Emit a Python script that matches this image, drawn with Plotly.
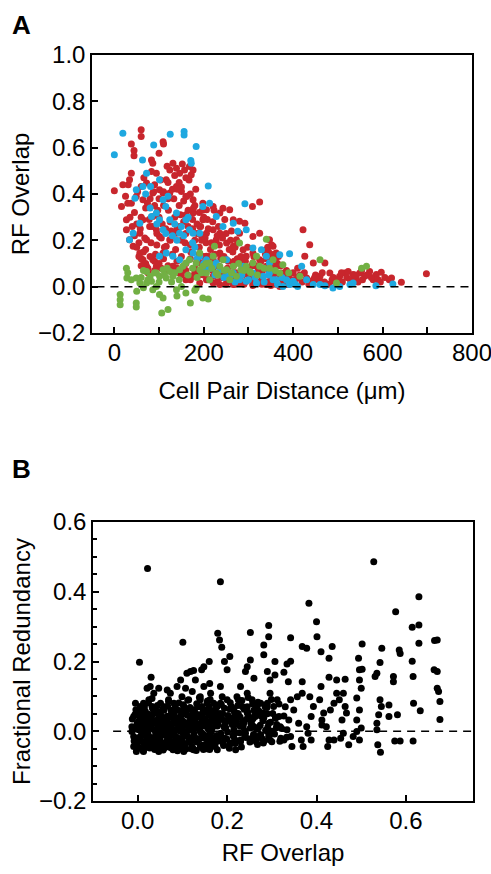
import plotly.graph_objects as go

# ---- panel A: RF overlap vs cell pair distance ----
red_x = [60, 60, 38, 44, 44, 83, 86, 100, 109, 110, 131, 139, 146, 157, 168, 176, 172, 124, 116, 94,
         83, 72, 38, 34, 31, 19, 0, 16, 38, 49, 60, 64, 86, 101, 109, 124, 139, 150, 160, 176,
         198, 206, 221, 236, 243, 258, 266, 280, 292, 309, 325, 280, 310, 325, 27, 27, 34, 42, 57, 72,
         79, 64, 86, 94, 101, 57, 64, 72, 86, 94, 109, 116, 124, 139, 146, 160, 176, 191, 198, 206,
         221, 228, 236, 251, 266, 273, 288, 295, 310, 325, 340, 347, 355, 362, 351, 340, 362, 374, 385, 400,
         422, 437, 426, 445, 471, 482, 460, 445, 430, 493, 504, 515, 523, 534, 541, 549, 560, 571, 579, 586,
         597, 620, 642, 698, 131, 146, 160, 176, 191, 206, 221, 236, 251, 266, 280, 295, 310, 325, 340, 355,
         370, 385, 400, 191, 206, 221, 236, 251, 266, 280, 295, 310, 325, 266, 236, 221, 60, 70, 75, 80,
         90, 100, 110, 120, 130, 140, 150, 160, 170, 180, 190, 200, 70, 95, 105, 115, 125, 135, 145, 155,
         165, 175, 185, 195, 205, 215, 225, 235, 245, 255, 265, 275, 285, 300, 315, 330, 345, 355, 350, 345,
         360, 365, 340, 355, 380, 395, 410, 420, 440, 455, 470, 480, 100, 110, 120, 130, 90, 80, 70, 60,
         50, 45, 55, 65, 85, 95, 125, 140, 150, 160, 170, 180, 190, 210, 220, 230, 250, 260, 270, 145,
         150, 160, 135, 120, 110, 100, 90, 170, 180, 190, 200, 160, 155, 165, 175, 185, 195, 200, 210, 220,
         230, 240, 250, 260, 270, 280, 290, 300, 310, 320, 330, 340, 350, 360, 370, 385, 390, 400, 410, 425,
         430, 450, 465, 490, 500, 510, 520, 545, 555, 565, 590, 605,
         45, 52, 58, 66, 68, 74, 78, 82, 88, 92, 97, 103, 107, 112, 118, 121, 127, 133, 137, 141,
         148, 152, 158, 162, 167, 171, 177, 182, 187, 193, 197, 203, 208, 212, 217, 223, 227, 233, 238, 242,
         247, 253, 257, 262, 268, 272, 277, 283, 287, 293, 298, 303, 307, 312, 318, 322, 328, 333, 338, 343,
         348, 352, 357, 362, 367, 372, 377, 382, 392, 405, 415, 435, 448, 462, 475, 487, 508, 528, 538, 553,
         575, 595, 615, 130, 150, 170, 190, 210, 230, 250, 270, 290, 310, 330, 350, 120, 140, 160, 180, 200,
         105, 90, 75, 60, 55, 50, 40, 35, 30, 25]
red_y = [0.677, 0.648, 0.616, 0.588, 0.565, 0.547, 0.533, 0.576, 0.626, 0.616, 0.533, 0.511, 0.49, 0.504, 0.519, 0.504, 0.483, 0.504, 0.461, 0.49,
         0.497, 0.447, 0.49, 0.461, 0.44, 0.44, 0.414, 0.346, 0.36, 0.389, 0.432, 0.375, 0.404, 0.418, 0.404, 0.404, 0.432, 0.411, 0.389, 0.375,
         0.36, 0.332, 0.346, 0.318, 0.339, 0.332, 0.289, 0.282, 0.274, 0.346, 0.365, 0.231, 0.217, 0.231, 0.289, 0.246, 0.203, 0.174, 0.231, 0.203,
         0.26, 0.289, 0.303, 0.246, 0.217, 0.145, 0.116, 0.088, 0.116, 0.088, 0.145, 0.174, 0.203, 0.231, 0.26, 0.289, 0.318, 0.26, 0.289, 0.231,
         0.246, 0.203, 0.231, 0.188, 0.174, 0.203, 0.159, 0.131, 0.145, 0.116, 0.159, 0.203, 0.174, 0.145, 0.116, 0.088, 0.088, 0.059, 0.045, 0.030,
         0.246, 0.181, 0.131, 0.102, 0.102, 0.059, 0.045, 0.030, 0.037, 0.023, 0.045, 0.059, 0.066, 0.052, 0.037, 0.059, 0.045, 0.066, 0.030, 0.052,
         0.062, 0.037, 0.019, 0.056, 0.088, 0.059, 0.030, 0.045, 0.016, 0.030, 0.016, 0.009, 0.016, 0.009, 0.016, 0.023, 0.009, 0.016, 0.009, 0.016,
         0.001, 0.009, 0.016, 0.102, 0.131, 0.116, 0.145, 0.116, 0.088, 0.116, 0.073, 0.102, 0.059, 0.059, 0.059, 0.045, 0.12, 0.10, 0.08, 0.13,
         0.11, 0.10, 0.12, 0.09, 0.14, 0.11, 0.13, 0.10, 0.12, 0.08, 0.14, 0.10, 0.16, 0.18, 0.21, 0.25, 0.28, 0.30, 0.35, 0.37,
         0.33, 0.29, 0.27, 0.22, 0.19, 0.16, 0.14, 0.18, 0.13, 0.11, 0.15, 0.12, 0.10, 0.08, 0.09, 0.06, 0.07, 0.12, 0.13, 0.15,
         0.11, 0.10, 0.12, 0.05, 0.03, 0.02, 0.04, 0.02, 0.01, 0.03, 0.02, 0.01, 0.30, 0.35, 0.38, 0.42, 0.44, 0.38, 0.34, 0.30,
         0.27, 0.22, 0.19, 0.15, 0.26, 0.23, 0.20, 0.25, 0.20, 0.23, 0.18, 0.20, 0.17, 0.25, 0.28, 0.22, 0.23, 0.20, 0.17, 0.45,
         0.43, 0.47, 0.48, 0.45, 0.41, 0.38, 0.35, 0.40, 0.35, 0.32, 0.30, 0.31, 0.28, 0.26, 0.25, 0.23, 0.20, 0.13, 0.09, 0.07,
         0.05, 0.04, 0.06, 0.05, 0.03, 0.04, 0.02, 0.05, 0.03, 0.02, 0.04, 0.02, 0.03, 0.01, 0.04, 0.07, 0.05, 0.06, 0.08, 0.06,
         0.03, 0.05, 0.06, 0.04, 0.03, 0.02, 0.04, 0.02, 0.03, 0.05, 0.03, 0.04,
         0.32, 0.41, 0.25, 0.47, 0.21, 0.36, 0.29, 0.19, 0.41, 0.14, 0.33, 0.46, 0.27, 0.17, 0.52, 0.33, 0.24, 0.38, 0.16, 0.42,
         0.31, 0.53, 0.19, 0.39, 0.46, 0.15, 0.34, 0.42, 0.12, 0.26, 0.33, 0.21, 0.29, 0.13, 0.19, 0.33, 0.09, 0.26, 0.12, 0.21,
         0.29, 0.08, 0.16, 0.24, 0.11, 0.06, 0.19, 0.13, 0.05, 0.11, 0.17, 0.03, 0.09, 0.13, 0.05, 0.07, 0.11, 0.02, 0.14, 0.17,
         0.09, 0.18, 0.14, 0.06, 0.13, 0.09, 0.02, 0.05, 0.01, 0.03, 0.05, 0.01, 0.04, 0.02, 0.01, 0.03, 0.06, 0.03, 0.05, 0.07,
         0.04, 0.02, 0.03, 0.06, 0.05, 0.03, 0.05, 0.03, 0.02, 0.01, 0.01, 0.01, 0.005, 0.01, 0.005, 0.07, 0.08, 0.07, 0.06, 0.05,
         0.08, 0.07, 0.06, 0.09, 0.13, 0.17, 0.26, 0.30, 0.36, 0.39]

blue_x = [0, 19, 125, 156, 156, 183, 88, 63, 171, 172, 210, 72, 101, 81, 49, 46, 64, 109, 115, 139,
          160, 176, 124, 94, 83, 57, 42, 34, 101, 109, 146, 168, 191, 198, 213, 228, 243, 266, 276, 292,
          295, 310, 329, 340, 347, 370, 392, 419, 430, 460, 489, 497, 527, 534, 585, 623, 400, 385, 362, 347,
          333, 318, 295, 280, 258, 236, 221, 206, 191, 176, 160, 146, 131, 116, 101, 266, 288, 310, 251, 228,
          206, 377, 392, 410, 445, 471, 504,
          130, 140, 150, 165, 175, 185, 200, 215, 225, 245, 255, 270, 285, 300, 315, 335, 345, 355, 365, 375,
          390, 405, 115, 95, 80, 70, 120, 135, 155, 180]
blue_y = [0.569, 0.662, 0.658, 0.67, 0.655, 0.605, 0.612, 0.547, 0.545, 0.533, 0.435, 0.49, 0.461, 0.432, 0.418, 0.382, 0.432, 0.375, 0.346, 0.318,
          0.289, 0.231, 0.289, 0.318, 0.303, 0.274, 0.231, 0.203, 0.289, 0.246, 0.231, 0.246, 0.231, 0.346, 0.36, 0.303, 0.26, 0.274, 0.239, 0.358,
          0.246, 0.167, 0.159, 0.131, 0.102, 0.138, 0.142, 0.088, 0.030, 0.009, -0.006, 0.009, 0.009, 0.016, 0.004, 0.011, 0.023, 0.030, 0.030, 0.059,
          0.045, 0.016, 0.023, 0.030, 0.045, 0.073, 0.088, 0.116, 0.131, 0.145, 0.159, 0.116, 0.131, 0.145, 0.131, 0.059, 0.088, 0.059, 0.116, 0.102,
          0.073, 0.001, 0.009, 0.001, 0.009, 0.004, 0.001,
          0.22, 0.20, 0.26, 0.30, 0.19, 0.12, 0.10, 0.08, 0.05, 0.04, 0.06, 0.02, 0.05, 0.03, 0.04, 0.02, 0.05, 0.03, 0.01, 0.04,
          0.02, 0.01, 0.23, 0.27, 0.34, 0.40, 0.39, 0.27, 0.22, 0.17]

green_x = [27, 28, 38, 49, 57, 13, 13, 13, 49, 49, 72, 80, 83, 94, 101, 109, 116, 124, 131, 146,
           153, 101, 109, 120, 106, 139, 150, 160, 170, 183, 198, 210, 86, 94, 72, 160, 168, 183, 191, 198,
           206, 213, 221, 228, 236, 243, 251, 266, 273, 280, 283, 295, 310, 318, 325, 340, 355, 377, 415, 460,
           497, 553, 564, 224, 191, 213, 258, 303, 347, 370,
           30, 60, 65, 75, 90, 100, 112, 118, 128, 135, 145, 165, 175, 185, 195, 205, 218, 232, 246, 262,
           278, 290, 305, 320, 335, 360, 390, 50, 65, 140, 180]
green_y = [0.080, 0.037, 0.030, 0.037, 0.016, -0.034, -0.056, -0.078, -0.070, -0.088, 0.066, 0.045, 0.023, 0.059, 0.045, 0.073, 0.037, 0.066, 0.045, 0.073,
           0.088, -0.034, -0.049, -0.099, -0.114, -0.013, 0.001, -0.027, -0.070, -0.006, -0.049, -0.053, -0.013, 0.001, 0.016, 0.102, 0.116, 0.102, 0.145, 0.088,
           0.059, 0.102, 0.131, 0.059, 0.088, 0.116, 0.073, 0.088, 0.045, 0.188, 0.073, 0.088, 0.102, 0.131, 0.088, 0.205, 0.116, 0.095, 0.045, 0.116,
           0.016, 0.080, 0.088, 0.174, 0.073, 0.030, 0.030, 0.066, 0.080, 0.059,
           0.06, 0.04, 0.07, 0.03, 0.06, 0.02, 0.05, 0.08, 0.02, 0.06, 0.03, 0.05, 0.08, 0.04, 0.06, 0.10, 0.08, 0.05, 0.07, 0.06,
           0.10, 0.07, 0.06, 0.05, 0.08, 0.07, 0.06, -0.02, -0.005, -0.04, -0.015]

# ---- panel B: fractional redundancy vs RF overlap ----
blk_x = [0.022, 0.004, 0.185, 0.528, 0.629, 0.383, 0.577, 0.4, 0.293, 0.614, 0.629, 0.101, 0.179, 0.183, 0.252, 0.293, 0.342, 0.401, 0.368, 0.378,
         0.435, 0.502, 0.546, 0.629, 0.67, 0.664, 0.585, 0.587, 0.282, 0.282, 0.188, 0.206, 0.194, 0.41, 0.428, 0.494, 0.614, 0.542, 0.252, 0.245,
         0.307, 0.334, 0.342, 0.143, 0.148, 0.16, 0.118, 0.125, 0.2, 0.241, 0.26, 0.29, 0.296, 0.307, 0.327, 0.337, 0.368, 0.41, 0.428, 0.445,
         0.464, 0.496, 0.502, 0.531, 0.535, 0.572, 0.616, 0.663, 0.67, 0.572, 0.67, 0.673, 0.676, 0.676, 0.632, 0.617, 0.562, 0.562, 0.581, 0.542,
         0.545, 0.539, 0.535, 0.535, 0.537, 0.543, 0.575, 0.587, 0.616, 0.496, 0.5, 0.49, 0.496, 0.49, 0.5, 0.49, 0.482, 0.496, 0.472, 0.454,
         0.439, 0.428, 0.425, 0.46, 0.457, 0.467, 0.464, 0.451, 0.46, 0.445, 0.439, 0.431, 0.416, 0.412, 0.412, 0.422, 0.407, 0.393, 0.385, 0.388,
         0.378, 0.381, 0.388, 0.37, 0.366, 0.36, 0.357, 0.368, 0.342, 0.349, 0.338, 0.334, 0.342, 0.345, 0.327, 0.319, 0.316, 0.304, 0.312, 0.296,
         0.29, 0.281, 0.293, 0.29, 0.296, 0.281, 0.267, 0.26, 0.263, 0.267, 0.256, 0.245, 0.23, 0.222, 0.234, 0.245, 0.237, 0.241, 0.23, 0.219,
         0.207, 0.215, 0.207, 0.215, 0.2, 0.185, 0.189, 0.178, 0.185, 0.193, 0.185, 0.178, 0.17, 0.163, 0.159, 0.163, 0.155, 0.163, 0.161, 0.148,
         0.14, 0.143, 0.136, 0.14, 0.143, 0.14, 0.125, 0.122, 0.125, 0.118, 0.122, 0.114, 0.122, 0.107, 0.099, 0.103, 0.096, 0.099, 0.103, 0.103,
         0.088, 0.081, 0.084, 0.077, 0.081, 0.069, 0.066, 0.058, 0.062, 0.058, 0.066, 0.058, 0.047, 0.043, 0.04, 0.043, 0.047, 0.051, 0.047, 0.028,
         0.021, 0.03, 0.025, 0.032, 0.025, 0.028, 0.025, 0.032, 0.013, 0.013, 0.01, 0.013, 0.01, 0.013, -0.005, -0.009, -0.013, -0.009, -0.003, -0.009,
         -0.013, -0.001, 0.002, 0.002, 0.036, 0.073, 0.088, 0.096, 0.11, 0.129,
         0.0, 0.005, 0.01, 0.015, 0.02, 0.025, 0.03, 0.035, 0.04, 0.045, 0.05, 0.055, 0.06, 0.065, 0.07, 0.075, 0.08, 0.085, 0.09, 0.095,
         0.1, 0.105, 0.11, 0.115, 0.12, 0.125, 0.13, 0.135, 0.14, 0.145, 0.15, 0.155, 0.16, 0.165, 0.17, 0.175, 0.18, 0.19, 0.195, 0.2,
         0.21, 0.215, 0.22, 0.225, 0.23, 0.24, 0.25, 0.255, 0.26, 0.27, 0.275, 0.28, 0.285, 0.3, 0.31, 0.32, 0.33, 0.0, 0.01, 0.02,
         0.03, 0.04, 0.05, 0.06, 0.07, 0.08, 0.09, 0.1, 0.11, 0.12, 0.13, 0.14, 0.15, 0.16, 0.005, 0.015, 0.025, 0.035, 0.045, 0.055,
         0.065, 0.075, 0.085, 0.095, 0.105, 0.115, 0.125, 0.135, 0.145, 0.155, 0.165, 0.175, 0.185, 0.195, 0.205, 0.215, 0.225, 0.235, 0.245, 0.255,
         0.265, 0.275, 0.29, 0.3, 0.31,
         -0.012, -0.008, -0.004, 0.001, 0.003, 0.006, 0.008, 0.011, 0.012, 0.014, 0.017, 0.018, 0.021, 0.023, 0.024, 0.027, 0.029, 0.031, 0.033, 0.036,
         0.038, 0.039, 0.042, 0.044, 0.046, 0.048, 0.051, 0.053, 0.054, 0.057, 0.059, 0.061, 0.063, 0.066, 0.068, 0.069, 0.072, 0.074, 0.076, 0.078,
         0.081, 0.083, 0.084, 0.087, 0.089, 0.091, 0.093, 0.096, 0.098, 0.099, 0.102, 0.104, 0.106, 0.108, 0.111, 0.113, 0.116, 0.117, 0.119, 0.121,
         0.124, 0.126, 0.128, 0.131, 0.132, 0.134, 0.137, 0.139, 0.141, 0.144, 0.146, 0.148, 0.151, 0.153, 0.156, 0.158, 0.161, 0.163, 0.166, 0.168,
         0.171, 0.173, 0.176, 0.178, 0.181, 0.184, 0.186, 0.189, 0.192, 0.194, 0.197, 0.199, 0.202, 0.205, 0.207, 0.211, 0.213, 0.216, 0.218, 0.221,
         0.224, 0.227, 0.229, 0.232, 0.236, 0.238, 0.242, 0.244, 0.247, 0.251, 0.253, 0.257, 0.259, 0.262, 0.266, 0.268, 0.271, 0.274, 0.278, 0.282,
         0.286, 0.289, 0.293, 0.297, 0.302, 0.306, 0.311, 0.316, 0.322, 0.327, 0.333,
         -0.01, -0.006, -0.002, 0.002, 0.004, 0.007, 0.009, 0.012, 0.013, 0.016, 0.019, 0.02, 0.022, 0.026, 0.028, 0.03, 0.032, 0.034, 0.037, 0.04,
         0.041, 0.043, 0.047, 0.049, 0.052, 0.056, 0.058, 0.062, 0.064, 0.067, 0.071, 0.073, 0.077, 0.079, 0.082, 0.086, 0.088, 0.092, 0.094, 0.097,
         0.101, 0.103, 0.107, 0.109, 0.112, 0.114, 0.118, 0.122, 0.123, 0.127, 0.129, 0.133, 0.136, 0.138, 0.142, 0.143, 0.147, 0.149, 0.152, 0.157,
         0.159, 0.162, 0.164, 0.167, 0.172, 0.174, 0.177, 0.182, 0.187, 0.191, 0.196, 0.201, 0.206, 0.212, 0.217, 0.223, 0.228, 0.233, 0.239, 0.246,
         0.252, 0.258, 0.264, 0.269, 0.276, 0.283, 0.291, 0.299, 0.308, 0.318]
blk_y = [0.467, 0.198, 0.429, 0.486, 0.386, 0.367, 0.343, 0.314, 0.303, 0.298, 0.305, 0.255, 0.281, 0.262, 0.283, 0.271, 0.268, 0.271, 0.243, 0.238,
         0.243, 0.25, 0.238, 0.252, 0.262, 0.26, 0.233, 0.223, 0.247, 0.219, 0.241, 0.214, 0.2, 0.228, 0.209, 0.209, 0.201, 0.197, 0.204, 0.185,
         0.2, 0.193, 0.201, 0.176, 0.185, 0.2, 0.171, 0.174, 0.176, 0.171, 0.152, 0.171, 0.147, 0.161, 0.169, 0.142, 0.142, 0.128, 0.155, 0.147,
         0.149, 0.176, 0.178, 0.157, 0.166, 0.157, 0.157, 0.176, 0.171, 0.142, 0.123, 0.114, 0.085, 0.034, 0.059, 0.08, 0.075, 0.042, 0.047, 0.09,
         0.071, 0.047, 0.023, 0.004, -0.039, -0.06, -0.028, -0.028, -0.028, 0.147, 0.123, 0.095, 0.061, 0.032, 0.009, -0.001, -0.015, -0.025, -0.039, -0.02,
         -0.025, -0.025, -0.044, -0.006, 0.032, 0.052, 0.071, 0.09, 0.109, 0.109, 0.08, 0.061, 0.052, 0.032, 0.018, 0.013, 0.09, 0.071, 0.099, 0.042,
         0.013, -0.006, -0.025, -0.044, -0.025, 0.023, 0.099, 0.109, 0.09, 0.061, 0.032, 0.004, -0.015, -0.044, -0.025, 0.013, 0.042, 0.071, 0.09, 0.109,
         0.08, 0.052, 0.023, -0.001, -0.025, -0.034, -0.015, 0.013, 0.042, 0.071, 0.09, 0.109, 0.128, 0.099, 0.071, 0.052, 0.023, -0.006, -0.025, -0.053,
         -0.034, 0.004, 0.032, 0.061, 0.09, 0.128, 0.099, 0.071, 0.042, 0.013, -0.015, -0.053, -0.034, -0.006, 0.023, 0.052, 0.08, 0.109, 0.137, 0.128,
         0.099, 0.071, 0.042, 0.013, -0.015, -0.044, -0.053, -0.025, 0.004, 0.032, 0.061, 0.09, 0.114, 0.123, 0.099, 0.071, 0.042, 0.013, -0.015, -0.058,
         -0.039, -0.006, 0.023, 0.052, 0.08, 0.09, 0.118, 0.061, 0.032, 0.004, -0.025, -0.049, -0.058, -0.03, -0.001, 0.028, 0.056, 0.08, 0.123, 0.128,
         0.123, 0.155, 0.09, 0.071, 0.042, 0.013, -0.015, -0.044, -0.058, -0.034, -0.006, 0.023, 0.052, 0.08, 0.08, 0.042, 0.013, -0.015, -0.058, -0.044,
         -0.001, 0.023, 0.004, -0.025, 0.109, 0.109, 0.128, 0.147, 0.166, 0.147,
         0.01, -0.02, 0.03, -0.01, 0.05, -0.03, 0.02, -0.04, 0.06, 0.0, -0.02, 0.04, -0.01, 0.03, -0.04, 0.01, 0.05, -0.02, 0.02, -0.05,
         0.03, -0.01, 0.06, -0.03, 0.01, 0.04, -0.02, 0.07, 0.0, -0.04, 0.03, 0.06, -0.01, 0.04, 0.08, -0.03, 0.02, 0.05, -0.02, 0.03,
         0.07, -0.01, 0.02, 0.05, -0.03, 0.0, 0.04, -0.02, 0.06, 0.01, -0.01, 0.03, 0.07, 0.0, 0.04, -0.02, 0.07, 0.06, -0.05, -0.02,
         0.04, -0.05, 0.03, 0.07, 0.0, -0.03, 0.06, -0.03, 0.0, -0.05, 0.05, 0.09, -0.02, 0.07, 0.04, 0.07, 0.01, 0.05, -0.03, 0.01,
         -0.04, 0.06, 0.03, 0.0, 0.05, 0.02, -0.02, 0.02, 0.05, -0.05, 0.0, 0.05, 0.08, 0.01, -0.04, 0.04, 0.09, 0.03, 0.07, 0.02,
         -0.03, 0.08, 0.05, -0.03, 0.01,
         0.035, -0.028, 0.062, -0.046, 0.018, 0.071, -0.012, 0.044, -0.055, 0.008, 0.057, -0.036, 0.026, -0.008, 0.082, -0.048, 0.039, -0.019, 0.066, 0.005,
         -0.052, 0.031, -0.024, 0.074, 0.014, -0.041, 0.049, -0.006, 0.027, -0.054, 0.061, 0.009, -0.033, 0.043, -0.015, 0.085, 0.022, -0.047, 0.054, -0.009,
         0.031, -0.038, 0.069, 0.004, -0.056, 0.037, -0.021, 0.058, 0.012, -0.044, 0.076, -0.013, 0.025, -0.051, 0.046, 0.002, -0.029, 0.068, 0.017, -0.042,
         0.052, -0.007, 0.033, -0.055, 0.079, 0.011, -0.024, 0.047, -0.046, 0.021, 0.064, -0.011, 0.036, -0.037, 0.087, 0.006, -0.052, 0.029, 0.059, -0.019,
         0.042, -0.044, 0.073, 0.015, -0.028, 0.051, -0.006, 0.034, -0.041, 0.066, 0.009, -0.022, 0.045, -0.049, 0.082, 0.019, -0.013, 0.056, -0.035, 0.028,
         0.074, -0.004, 0.041, -0.045, 0.012, 0.063, -0.018, 0.035, 0.097, -0.031, 0.024, 0.078, -0.009, 0.047, 0.006, -0.038, 0.058, 0.017, -0.021, 0.039,
         0.003, 0.068, -0.014, 0.026, 0.051, -0.008, 0.019, 0.078, 0.008, 0.044, -0.017,
         0.005, 0.048, -0.038, 0.028, -0.017, 0.052, 0.001, -0.031, 0.066, 0.021, -0.045, 0.037, -0.002, 0.048, -0.026, 0.011, 0.094, -0.035, 0.024, -0.011,
         0.053, -0.044, 0.037, 0.002, -0.031, 0.063, 0.019, -0.046, 0.028, 0.072, -0.024, 0.041, 0.007, -0.053, 0.046, -0.016, 0.024, 0.081, -0.031, 0.028,
         -0.005, 0.061, -0.036, 0.018, 0.089, -0.017, 0.038, 0.006, -0.048, 0.062, 0.021, -0.031, 0.043, 0.097, -0.004, 0.032, -0.052, 0.055, 0.014, -0.026,
         0.048, 0.091, -0.036, 0.011, 0.027, 0.062, -0.012, 0.038, 0.077, -0.033, 0.024, -0.002, 0.064, 0.035, -0.024, 0.051, 0.016, 0.088, -0.011, 0.055,
         0.009, 0.036, -0.021, 0.083, 0.044, -0.027, 0.012, 0.091, 0.037, -0.029]

FONT = "Liberation Sans, Arial, Helvetica, sans-serif"
MS = 7
W, H = 491, 874

fig = go.Figure()
fig.add_trace(go.Scatter(x=red_x, y=red_y, mode="markers", xaxis="x", yaxis="y",
                         marker=dict(color="#c8262d", size=MS, line=dict(width=0))))
fig.add_trace(go.Scatter(x=blue_x, y=blue_y, mode="markers", xaxis="x", yaxis="y",
                         marker=dict(color="#1ea8e0", size=MS, line=dict(width=0))))
fig.add_trace(go.Scatter(x=green_x, y=green_y, mode="markers", xaxis="x", yaxis="y",
                         marker=dict(color="#72b044", size=MS, line=dict(width=0))))
fig.add_trace(go.Scatter(x=blk_x, y=blk_y, mode="markers", xaxis="x2", yaxis="y2",
                         marker=dict(color="black", size=MS, line=dict(width=0))))

# dashed zero lines
fig.add_shape(type="line", xref="x", yref="y", x0=-40, x1=800, y0=0, y1=0,
              line=dict(color="black", width=1.5, dash="8px,6px"))
fig.add_shape(type="line", xref="x2", yref="y2", x0=-0.055, x1=0.75, y0=0, y1=0,
              line=dict(color="black", width=1.5, dash="8px,6px"))

ax = dict(showline=True, mirror=True, linecolor="black", linewidth=1.5, ticks="inside",
          tickcolor="black", ticklen=6, tickwidth=1.5, showgrid=False, zeroline=False,
          automargin=False, ticklabeloverflow="allow",
          tickfont=dict(size=24, color="black", family=FONT))
TF = dict(size=24, color="black", family=FONT)


def xdom(a, b):
    return [a / W, b / W]


def ydom(top, bottom):
    return [1 - bottom / H, 1 - top / H]


fig.update_layout(
    width=W, height=H, margin=dict(l=0, r=0, t=0, b=0),
    paper_bgcolor="white", plot_bgcolor="white", showlegend=False,
    font=dict(family=FONT, color="black"),
    xaxis=dict(ax, domain=xdom(92, 472), anchor="y", range=[-50, 800], dtick=200,
               ticklabelstandoff=-3,
               minor=dict(dtick=100, ticks="inside", ticklen=6, tickcolor="black", tickwidth=1.5),
               title=dict(text="Cell Pair Distance (μm)", font=TF, standoff=18)),
    yaxis=dict(ax, domain=ydom(55, 333), anchor="x", range=[-0.2, 1.0], dtick=0.2,
               tickformat=".1f", title=dict(text="RF Overlap", font=TF, standoff=2)),
    xaxis2=dict(ax, domain=xdom(93, 473), anchor="y2", range=[-0.1, 0.75], dtick=0.2,
                tickformat=".1f", ticklabelstandoff=-3,
                title=dict(text="RF Overlap", font=TF, standoff=12)),
    yaxis2=dict(ax, domain=ydom(522, 801), anchor="x2", range=[-0.2, 0.6], dtick=0.2,
                tickformat=".1f",
                minor=dict(dtick=0.05, ticks="inside", ticklen=4, tickcolor="black", tickwidth=1.5),
                title=dict(text="Fractional Redundancy", font=TF, standoff=2)),
    annotations=[
        dict(text="<b>A</b>", x=10 / W, y=1 - 8 / H, xref="paper", yref="paper",
             xanchor="left", yanchor="top", showarrow=False, font=dict(size=26, color="black")),
        dict(text="<b>B</b>", x=10 / W, y=1 - 452 / H, xref="paper", yref="paper",
             xanchor="left", yanchor="top", showarrow=False, font=dict(size=26, color="black")),
    ],
)

# drop the browser's default 8px body margin so the figure fills the window exactly
fig.write_html("out.html", config={"displayModeBar": False},
               post_script="document.body.style.margin='0';")
